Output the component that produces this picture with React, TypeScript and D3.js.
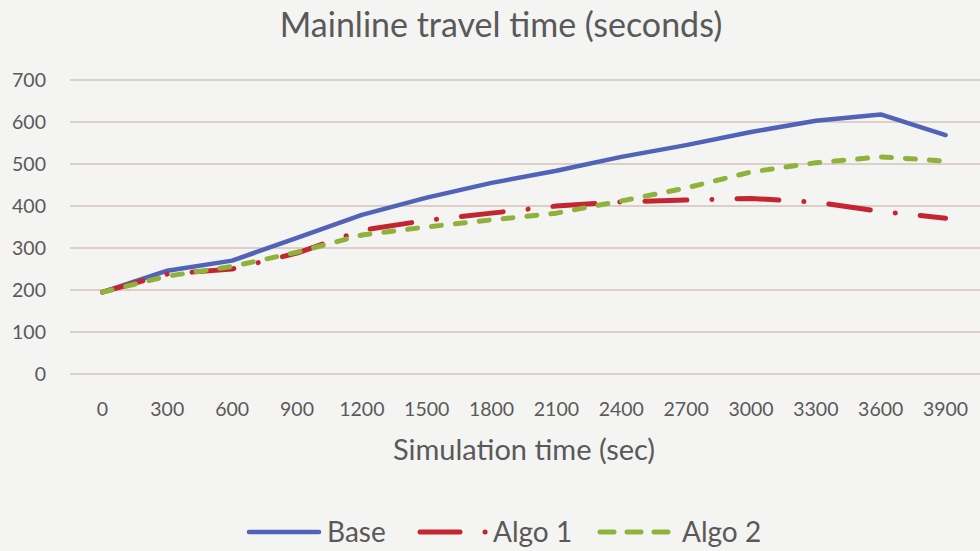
import React from "react";
import * as d3 from "d3";

const categories = ["0","300","600","900","1200","1500","1800","2100","2400","2700","3000","3300","3600","3900"];
const baseValues = [195, 246, 270, 324, 379, 420, 455, 484, 517, 545, 576, 603, 618, 569];
const algo1Values = [195, 238, 250, 288, 342, 366, 383, 400, 410, 414, 418, 409, 387, 371];
const algo2Values = [195, 233, 256, 290, 331, 350, 367, 383, 412, 443, 481, 503, 517, 507];
const yTicks = [0, 100, 200, 300, 400, 500, 600, 700];

const series = [
  { name: "Base", values: baseValues, color: "#5063b8", dash: "none", width: 4.5 },
  { name: "Algo 1", values: algo1Values, color: "#c42531", dash: "42 25 0.1 25", width: 5 },
  { name: "Algo 2", values: algo2Values, color: "#8fb23b", dash: "10 14", width: 5 },
];

const W = 980, H = 551;
const FONT = "Lato, 'Open Sans', sans-serif";

export default function App() {
  const x = d3.scalePoint<string>().domain(categories).range([70, 978]).padding(0.5);
  const y = d3.scaleLinear().domain([0, 700]).range([374, 80]);
  const line = d3.line<number>().x((_, i) => x(categories[i]) as number).y((d) => y(d));

  return (
    <svg width={W} height={H} style={{ position: "absolute", left: 0, top: 0, background: "#f4f4f2" }}>
      <rect width={W} height={H} fill="#f4f4f2" />
      <text x={501} y={37} textAnchor="middle" fontFamily={FONT} fontSize={34} fill="#595959">
        Mainline travel time (seconds)
      </text>
      {yTicks.map((t) => (
        <g key={t}>
          <line x1={70} x2={980} y1={y(t)} y2={y(t)} stroke="#d4c3b8" strokeWidth={1.5} />
          <text x={46} y={y(t) + 7} textAnchor="end" fontFamily={FONT} fontSize={19.5} fill="#595959">
            {t}
          </text>
        </g>
      ))}
      {categories.map((c) => (
        <text key={c} x={x(c)} y={416} textAnchor="middle" fontFamily={FONT} fontSize={19.5} fill="#595959">
          {c}
        </text>
      ))}
      <text x={524} y={460} textAnchor="middle" fontFamily={FONT} fontSize={29} fill="#595959">
        Simulation time (sec)
      </text>
      {series.map((s) => (
        <path
          key={s.name}
          d={line(s.values) || ""}
          fill="none"
          stroke={s.color}
          strokeWidth={s.width}
          strokeDasharray={s.dash}
          strokeLinecap="round"
          strokeLinejoin="round"
        />
      ))}
      {/* Legend */}
      <g fontFamily={FONT} fontSize={28} fill="#595959">
        <line x1={249} x2={319} y1={532} y2={532} stroke="#5063b8" strokeWidth={4.5} strokeLinecap="round" />
        <text x={327} y={542}>Base</text>
        <line x1={420} x2={460} y1={532} y2={532} stroke="#c42531" strokeWidth={5} strokeLinecap="round" />
        <line x1={485} x2={485.1} y1={532} y2={532} stroke="#c42531" strokeWidth={5} strokeLinecap="round" />
        <text x={493} y={542}>Algo 1</text>
        <line x1={600} x2={668} y1={532} y2={532} stroke="#8fb23b" strokeWidth={5} strokeDasharray="14 13" strokeLinecap="round" />
        <text x={682} y={542}>Algo 2</text>
      </g>
    </svg>
  );
}
